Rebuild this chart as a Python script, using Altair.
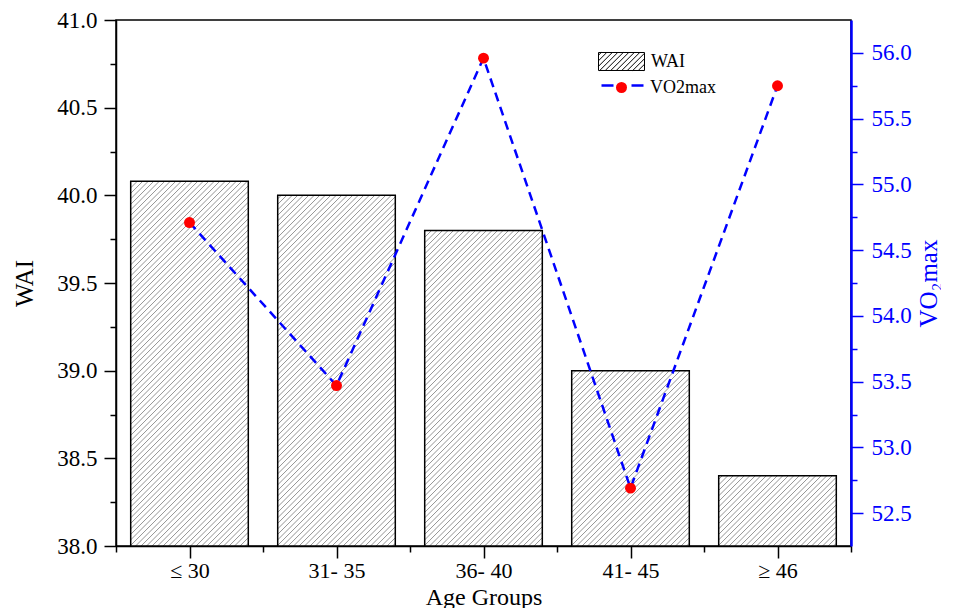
import json
import altair as alt
import pandas as pd

# ---------------- data ----------------
age_groups = ["≤ 30", "31- 35", "36- 40", "41- 45", "≥ 46"]
wai_values = [40.08, 40.00, 39.80, 39.00, 38.40]
vo2max_values = [54.71, 53.47, 55.96, 52.69, 55.75]

left_ticks = [38.0 + 0.25 * i for i in range(13)]      # 38.0 .. 41.0
right_ticks = [52.5 + 0.25 * i for i in range(15)]     # 52.5 .. 56.0
x_ticks = [-0.5 + 0.5 * i for i in range(11)]          # boundaries + centres

df = pd.DataFrame({
    "idx": list(range(len(age_groups))),
    "group": age_groups,
    "wai": wai_values,
    "vo2": vo2max_values,
})

# ---------------- geometry / style ----------------
W, H = 735, 526
X_DOM = [-0.5, 4.5]
Y_DOM = [38.0, 41.0]
R_DOM = [52.25, 56.25]
PX_X = W / (X_DOM[1] - X_DOM[0])
PX_Y = H / (Y_DOM[1] - Y_DOM[0])
BAR_HALF = 0.4
SP = 5.5                      # hatch spacing (px)
FONT = "Liberation Serif"
BLUE = "#0000ff"
RED = "#ff0000"

xs = alt.Scale(domain=X_DOM, nice=False, zero=False)
ys = alt.Scale(domain=Y_DOM, nice=False, zero=False)
rs = alt.Scale(domain=R_DOM, nice=False, zero=False)


def cond(test, a, b):
    return {"condition": {"test": test, "value": a}, "value": b}


MAJOR_DASH = [12, 0]
MINOR_DASH = [6, 30]

x_axis = alt.Axis(
    orient="bottom", values=x_ticks,
    labelExpr="datum.value % 1 === 0 ? " + json.dumps(age_groups, ensure_ascii=False) + "[datum.value] : ''",
    tickSize=12, tickDash=cond("datum.value % 1 === 0", MAJOR_DASH, MINOR_DASH),
    tickColor="black", tickWidth=1.5, domainColor="black", domainWidth=1.5,
    labelFont=FONT, labelFontSize=22, labelColor="black", labelPadding=2,
    labelAngle=0, labelFlush=False, labelOverlap=False,
    title="Age Groups", titleFont=FONT, titleFontSize=24, titleFontWeight="normal",
    titleColor="black", titleX=W / 2, titleY=51, titleBaseline="middle", titleAlign="center",
    grid=False,
)

y_axis = alt.Axis(
    orient="left", values=left_ticks,
    labelExpr="datum.value % 0.5 === 0 ? format(datum.value, '.1f') : ''",
    tickSize=12, tickDash=cond("datum.value % 0.5 === 0", MAJOR_DASH, MINOR_DASH),
    tickColor="black", tickWidth=1.5, domainColor="black", domainWidth=1.5,
    labelFont=FONT, labelFontSize=23, labelColor="black", labelPadding=7,
    labelFlush=False, labelOverlap=False,
    title="WAI", titleFont=FONT, titleFontSize=25, titleFontWeight="normal",
    titleColor="black", titleX=-92, titleY=H / 2, titleAngle=270,
    titleBaseline="middle", titleAlign="center", grid=False,
)

r_axis = alt.Axis(
    orient="right", values=right_ticks,
    labelExpr="datum.value % 0.5 === 0 ? format(datum.value, '.1f') : ''",
    tickSize=12, tickDash=cond("datum.value % 0.5 === 0", MAJOR_DASH, MINOR_DASH),
    tickColor=BLUE, tickWidth=1.5, domainColor=BLUE, domainWidth=2.5,
    labelFont=FONT, labelFontSize=23, labelColor=BLUE, labelPadding=8,
    labelFlush=False, labelOverlap=False,
    title="VO₂max", titleFont=FONT, titleFontSize=25, titleFontWeight="normal",
    titleColor=BLUE, titleX=77, titleY=H / 2, titleAngle=270,
    titleBaseline="middle", titleAlign="center", grid=False,
)

# legend symbol: hatched rectangle path (unit coords)
hh = 9 / 23
step = SP / 23
parts = [f"M-1,{-hh:.3f}H1V{hh:.3f}H-1Z"]
c = -1 - hh + step / 2
while c < 1 + hh:
    xs0 = max(-1, c - hh)
    xe0 = min(1, c + hh)
    if xs0 < xe0:
        parts.append(f"M{xs0:.3f},{c - xs0:.3f}L{xe0:.3f},{c - xe0:.3f}")
    c += step
hatch_path = "".join(parts)

base = alt.Chart(df)

bars_fill = base.transform_calculate(
    series="'WAI'", x_lo=f"datum.idx - {BAR_HALF}", x_hi=f"datum.idx + {BAR_HALF}"
).mark_rect(strokeWidth=0).encode(
    x=alt.X("x_lo:Q", scale=xs, axis=x_axis),
    x2="x_hi:Q",
    y=alt.Y("wai:Q", scale=ys, axis=y_axis),
    y2=alt.datum(Y_DOM[0]),
    fill=alt.Fill("series:N", scale=alt.Scale(domain=["WAI"], range=["white"]),
                  legend=alt.Legend(orient="none", legendX=482, legendY=18, title=None,
                                    symbolType=hatch_path, symbolSize=2116,
                                    symbolStrokeColor="black", symbolStrokeWidth=1,
                                    labelFont=FONT, labelFontSize=18, labelColor="black",
                                    labelOffset=6, padding=0)),
)

bw = 2 * BAR_HALF * PX_X
hatch = base.transform_calculate(k="sequence(0, 110)").transform_flatten(["k"]).transform_calculate(
    d=f"{-bw} + (datum.k + 0.5) * {SP}",
    bh=f"(datum.wai - {Y_DOM[0]}) * {PX_Y}",
).transform_filter("datum.d < datum.bh").transform_calculate(
    px0="max(0, -datum.d)",
    px1=f"min({bw}, datum.bh - datum.d)",
).transform_calculate(
    xa=f"datum.idx - {BAR_HALF} + datum.px0 / {PX_X}",
    xb=f"datum.idx - {BAR_HALF} + datum.px1 / {PX_X}",
    ya=f"{Y_DOM[0]} + (datum.px0 + datum.d) / {PX_Y}",
    yb=f"{Y_DOM[0]} + (datum.px1 + datum.d) / {PX_Y}",
).mark_rule(color="#888888", strokeWidth=0.9).encode(
    x=alt.X("xa:Q", scale=xs, axis=x_axis),
    x2="xb:Q",
    y=alt.Y("ya:Q", scale=ys, axis=y_axis),
    y2="yb:Q",
)

bars_outline = base.transform_calculate(
    x_lo=f"datum.idx - {BAR_HALF}", x_hi=f"datum.idx + {BAR_HALF}"
).mark_rect(fillOpacity=0, stroke="black", strokeWidth=1.5).encode(
    x=alt.X("x_lo:Q", scale=xs, axis=x_axis),
    x2="x_hi:Q",
    y=alt.Y("wai:Q", scale=ys, axis=y_axis),
    y2=alt.datum(Y_DOM[0]),
)

line = base.transform_calculate(sline="'line'").mark_line(
    strokeDash=[9, 6], strokeWidth=2.5
).encode(
    x=alt.X("idx:Q", scale=xs, axis=x_axis),
    y=alt.Y("vo2:Q", scale=rs, axis=r_axis),
    stroke=alt.Stroke("sline:N", scale=alt.Scale(domain=["line"], range=[BLUE]),
                      legend=alt.Legend(orient="none", legendX=484, legendY=43, title=None,
                                        symbolType="stroke", symbolSize=1764,
                                        symbolDash=[12, 18], symbolStrokeWidth=2.5,
                                        labelExpr="''", padding=0)),
)

points = base.transform_calculate(spt="'VO2max'").mark_circle(size=120, opacity=1).encode(
    x=alt.X("idx:Q", scale=xs, axis=x_axis),
    y=alt.Y("vo2:Q", scale=rs, axis=r_axis),
    color=alt.Color("spt:N", scale=alt.Scale(domain=["VO2max"], range=[RED]),
                    legend=alt.Legend(orient="none", legendX=496.5, legendY=58.5, title=None,
                                      symbolType="circle", symbolSize=121, symbolOpacity=1,
                                      symbolStrokeWidth=0,
                                      labelFont=FONT, labelFontSize=18, labelColor="black",
                                      labelOffset=19.5, padding=0)),
)

left_layer = alt.layer(bars_fill, hatch, bars_outline)
right_layer = alt.layer(line, points)

chart = alt.layer(left_layer, right_layer).resolve_scale(y="independent").properties(
    width=W, height=H,
    autosize=alt.AutoSizeParams(type="none"),
    padding={"left": 108, "top": 12, "right": 90, "bottom": 62},
    background="white",
).configure(font=FONT).configure_axis(labelFont=FONT, titleFont=FONT).configure_legend(
    labelFont=FONT
).configure_view(stroke="black", strokeWidth=1.5)

chart.save("out.html", embed_options={"renderer": "svg", "actions": False})
